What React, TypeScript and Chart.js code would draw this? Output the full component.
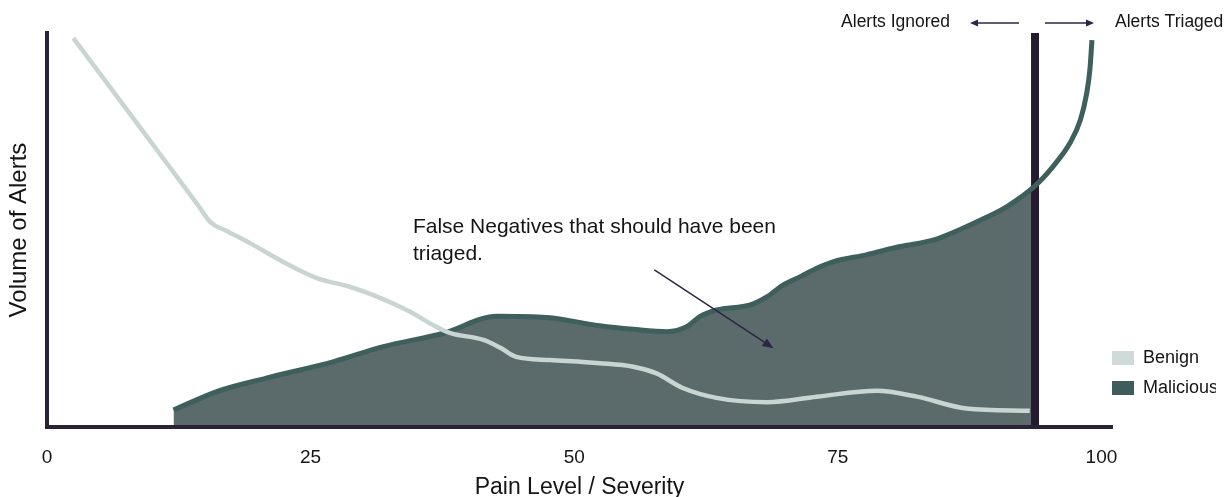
import React, { useEffect, useRef } from 'react';
import { Chart, registerables } from 'chart.js';

Chart.register(...registerables);

// ---- data ----
const X_TICKS = [0, 25, 50, 75, 100];
const X_MIN = 0;
const X_MAX = 101;
const Y_MIN = 0;
const Y_MAX = 100;

const SERIES_LABELS = ['Benign', 'Malicious'];

const BENIGN_X = [2.5, 9.0, 14.3, 15.5, 17.0, 19.3, 22.4, 25.6, 28.7, 31.3, 34.4, 36.6, 38.2, 41.4, 43.0, 44.5, 47.7, 52.4, 55.6, 57.8, 60.3, 63.5, 68.3, 73.0, 78.7, 82.5, 87.2, 93.2];
const BENIGN_Y = [98.7, 75.4, 56.4, 52.0, 49.8, 46.6, 41.9, 37.8, 35.6, 33.1, 29.3, 25.9, 23.9, 22.1, 20.1, 17.8, 17.0, 16.2, 15.3, 13.6, 9.9, 7.4, 6.3, 7.7, 9.2, 7.7, 4.7, 4.1];

const MALICIOUS_X = [12.0, 16.1, 20.8, 27.2, 31.9, 37.6, 42.7, 47.4, 52.4, 55.6, 58.8, 60.7, 61.9, 63.5, 66.7, 68.3, 69.8, 71.4, 73.0, 74.6, 77.7, 80.9, 84.1, 88.5, 91.0, 93.7, 95.4, 97.0, 98.0, 98.6, 98.9, 99.1];
const MALICIOUS_Y = [4.3, 9.0, 12.4, 16.6, 20.4, 23.8, 28.1, 27.8, 25.7, 24.8, 24.2, 25.5, 28.0, 29.7, 31.0, 33.1, 36.0, 38.1, 40.3, 42.0, 43.7, 45.8, 47.5, 52.5, 55.9, 61.2, 66.1, 72.0, 77.9, 84.7, 90.6, 98.2];

const THRESHOLD = 93.7;

const X_TITLE = 'Pain Level / Severity';
const Y_TITLE = 'Volume of Alerts';
const TOP_LEFT_LABEL = 'Alerts Ignored';
const TOP_RIGHT_LABEL = 'Alerts Triaged';
const NOTE_LINES = ['False Negatives that should have been', 'triaged.'];
const NOTE_X = 34.7;
const NOTE_Y = [49.3, 42.5];
const NOTE_ARROW_FROM = [57.6, 39.9];
const NOTE_ARROW_TO = [68.9, 20.0];

// ---- styles ----
const FONT = '"Liberation Sans", Arial, sans-serif';
const C_TEXT = '#151515';
const C_FILL = '#5b6a6b';
const C_MAL = '#3e5f5c';
const C_MAL_LEGEND = '#3f5c5c';
const C_BEN = '#c9d5d3';
const C_BEN_LEGEND = '#cfdad9';
const C_AXIS = '#2a2236';
const C_THRESH = '#241b2f';
const C_ARROW = '#2d2446';

const pts = (xs: number[], ys: number[]) => xs.map((x, i) => ({ x, y: ys[i] }));

function arrow(ctx: CanvasRenderingContext2D, x1: number, y1: number, x2: number, y2: number, lw: number, head: number, half: number) {
  const ang = Math.atan2(y2 - y1, x2 - x1);
  const bx = x2 - Math.cos(ang) * head;
  const by = y2 - Math.sin(ang) * head;
  ctx.strokeStyle = C_ARROW;
  ctx.fillStyle = C_ARROW;
  ctx.lineWidth = lw;
  ctx.beginPath();
  ctx.moveTo(x1, y1);
  ctx.lineTo(bx, by);
  ctx.stroke();
  ctx.beginPath();
  ctx.moveTo(x2, y2);
  ctx.lineTo(bx + Math.sin(ang) * half, by - Math.cos(ang) * half);
  ctx.lineTo(bx - Math.sin(ang) * half, by + Math.cos(ang) * half);
  ctx.closePath();
  ctx.fill();
}

export default function App() {
  const ref = useRef<HTMLCanvasElement>(null);

  useEffect(() => {
    const canvas = ref.current;
    if (!canvas) return;
    Chart.defaults.font.family = FONT;

    const malicious = pts(MALICIOUS_X, MALICIOUS_Y);
    const maliciousArea = malicious.filter((p) => p.x <= THRESHOLD);

    const annotations = {
      id: 'annotations',
      afterLayout(chart: any) {
        const lg = chart.legend;
        const ca = chart.chartArea;
        if (lg) {
          const w = lg.width;
          lg.left = ca.right - 12;
          lg.right = lg.left + w;
          lg.top = ca.bottom - 90;
          lg.bottom = ca.bottom;
          lg.height = lg.bottom - lg.top;
        }
      },
      afterDraw(chart: any) {
        const { ctx, chartArea: ca, scales } = chart;
        const xs = scales.x;
        const ys = scales.y;
        const tx = xs.getPixelForValue(THRESHOLD);
        ctx.save();
        ctx.fillStyle = C_TEXT;
        ctx.font = `17.5px ${FONT}`;
        ctx.textBaseline = 'alphabetic';
        ctx.textAlign = 'right';
        ctx.fillText(TOP_LEFT_LABEL, tx - 85, ca.top - 6);
        ctx.textAlign = 'left';
        ctx.fillText(TOP_RIGHT_LABEL, tx + 80, ca.top - 6);
        arrow(ctx, tx - 16, ca.top - 10, tx - 65, ca.top - 10, 1.7, 8, 3.5);
        arrow(ctx, tx + 10, ca.top - 10, tx + 59, ca.top - 10, 1.7, 8, 3.5);

        ctx.fillStyle = C_TEXT;
        ctx.font = `21px ${FONT}`;
        ctx.textAlign = 'left';
        NOTE_LINES.forEach((t, i) => {
          ctx.fillText(t, xs.getPixelForValue(NOTE_X), ys.getPixelForValue(NOTE_Y[i]));
        });
        arrow(
          ctx,
          xs.getPixelForValue(NOTE_ARROW_FROM[0]),
          ys.getPixelForValue(NOTE_ARROW_FROM[1]),
          xs.getPixelForValue(NOTE_ARROW_TO[0]),
          ys.getPixelForValue(NOTE_ARROW_TO[1]),
          1.5,
          11,
          4.5
        );
        ctx.restore();
      },
    };

    const chart = new Chart(canvas, {
      type: 'line',
      data: {
        datasets: [
          {
            label: SERIES_LABELS[0],
            data: pts(BENIGN_X, BENIGN_Y),
            borderColor: C_BEN,
            backgroundColor: C_BEN_LEGEND,
            borderWidth: 4.5,
            pointRadius: 0,
            fill: false,
            cubicInterpolationMode: 'monotone',
            order: 0,
          },
          {
            label: SERIES_LABELS[1],
            data: malicious,
            borderColor: C_MAL,
            backgroundColor: C_MAL_LEGEND,
            borderWidth: 5,
            pointRadius: 0,
            fill: false,
            cubicInterpolationMode: 'monotone',
            order: 1,
          },
          {
            label: 'threshold',
            data: [
              { x: THRESHOLD, y: Y_MIN },
              { x: THRESHOLD, y: Y_MAX },
            ],
            borderColor: C_THRESH,
            borderWidth: 8,
            pointRadius: 0,
            fill: false,
            order: 2,
          },
          {
            label: 'malicious-area',
            data: maliciousArea,
            borderColor: 'rgba(0,0,0,0)',
            borderWidth: 0,
            backgroundColor: C_FILL,
            pointRadius: 0,
            fill: 'origin',
            cubicInterpolationMode: 'monotone',
            order: 3,
          },
        ],
      } as any,
      options: {
        responsive: true,
        maintainAspectRatio: false,
        animation: false,
        events: [],
        layout: { padding: { top: 33, left: 0, right: 0, bottom: 0 } },
        plugins: {
          tooltip: { enabled: false },
          legend: {
            position: 'right',
            align: 'start',
            fullSize: false,
            maxWidth: 116,
            labels: {
              boxWidth: 22,
              boxHeight: 14,
              padding: 12,
              color: C_TEXT,
              font: { size: 18 },
              generateLabels: (c: any) =>
                (Chart.defaults.plugins.legend.labels as any)
                  .generateLabels(c)
                  .map((l: any) => ({ ...l, lineWidth: 0 })),
              filter: (item: any) => SERIES_LABELS.includes(item.text),
            },
          },
        },
        scales: {
          x: {
            type: 'linear',
            min: X_MIN,
            max: X_MAX,
            afterBuildTicks: (s: any) => {
              s.ticks = X_TICKS.map((v) => ({ value: v }));
            },
            afterFit: (s: any) => {
              s.height = 70;
            },
            grid: { display: false },
            border: { display: true, color: C_AXIS, width: 4, z: 1 } as any,
            ticks: { color: C_TEXT, font: { size: 19 }, padding: 11, maxRotation: 0, autoSkip: false },
            title: { display: true, text: X_TITLE, color: C_TEXT, font: { size: 23, lineHeight: 0.8 }, padding: 0 },
          },
          y: {
            type: 'linear',
            min: Y_MIN,
            max: Y_MAX,
            afterFit: (s: any) => {
              s.width = 47;
            },
            grid: { display: false },
            border: { display: true, color: C_AXIS, width: 4, z: 1 } as any,
            ticks: { display: false },
            title: { display: true, text: Y_TITLE, color: C_TEXT, font: { size: 24, lineHeight: 0.8 }, padding: { top: 10, bottom: 0 } },
          },
        },
      } as any,
      plugins: [annotations],
    });

    return () => chart.destroy();
  }, []);

  return (
    <div style={{ position: 'fixed', left: 0, top: 0, width: 1228, height: 497, background: '#fff' }}>
      <canvas ref={ref} />
    </div>
  );
}
